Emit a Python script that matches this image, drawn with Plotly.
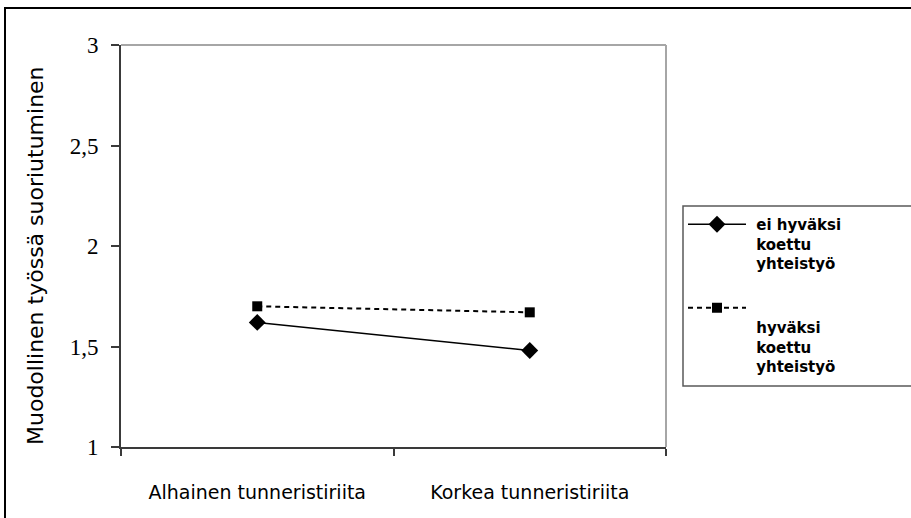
import plotly.graph_objects as go

# Mean formal job performance by tunnel-conflict level
categories = ["Alhainen tunneristiriita", "Korkea tunneristiriita"]
ei_hyvaksi_koettu = [1.62, 1.48]
hyvaksi_koettu = [1.70, 1.67]

NB = "\u00a0"
series_names = [
    "<br>".join(NB + s for s in ["ei hyväksi", "koettu", "yhteistyö"]),
    "<br>" + "<br>".join(NB + s for s in ["hyväksi", "koettu", "yhteistyö"]),
]
y_ticks = [1, 1.5, 2, 2.5, 3]

W, H = 911, 518
ML, MR, MT, MB = 121, 0, 45, 71
PW = W - ML - MR
PH = H - MT - MB
PLOT_RIGHT = 666


def px_x(x):
    return (x - ML) / PW


def px_y(y):
    return (H - MB - y) / PH


AXIS = "#3a3a3a"
BORDER = "#a6a6a6"

fig = go.Figure()

fig.add_trace(go.Scatter(
    x=categories, y=ei_hyvaksi_koettu, name=series_names[0],
    mode="lines+markers", legendgroup="a",
    line=dict(color="black", width=1.5),
    marker=dict(symbol="diamond", size=13, color="black"),
))
fig.add_trace(go.Scatter(
    x=categories, y=hyvaksi_koettu, name=series_names[1],
    mode="lines+markers", legendgroup="b",
    line=dict(color="black", width=2, dash="5px,4px"),
    marker=dict(symbol="square", size=10, color="black"),
))

shapes = [
    # outer chart frame
    dict(type="rect", xref="paper", yref="paper",
         x0=px_x(5), x1=1.2, y0=-0.5, y1=px_y(8),
         line=dict(color="black", width=2)),
    # plot area top and right edges
    dict(type="line", xref="paper", yref="paper",
         x0=0, x1=px_x(PLOT_RIGHT), y0=1, y1=1,
         line=dict(color=BORDER, width=2)),
    dict(type="line", xref="paper", yref="paper",
         x0=px_x(PLOT_RIGHT), x1=px_x(PLOT_RIGHT), y0=0, y1=1,
         line=dict(color=BORDER, width=2)),
    # legend box
    dict(type="rect", xref="paper", yref="paper",
         x0=px_x(683), x1=1.2, y0=px_y(386), y1=px_y(206),
         line=dict(color="#5a5a5a", width=1.5)),
]

fig.update_layout(
    width=W, height=H,
    margin=dict(l=ML, r=MR, t=MT, b=MB, pad=0),
    paper_bgcolor="white", plot_bgcolor="white",
    separators=", ",
    showlegend=True,
    shapes=shapes,
    legend=dict(
        x=px_x(683), y=px_y(208), xanchor="left", yanchor="top",
        bgcolor="rgba(0,0,0,0)", borderwidth=0,
        font=dict(family="DejaVu Sans", size=15, color="black", weight="bold"),
        valign="top", itemwidth=58, tracegroupgap=22,
    ),
    xaxis=dict(
        domain=[0, px_x(PLOT_RIGHT)],
        type="category", range=[-0.5, 1.5],
        tickson="boundaries", ticks="outside", ticklen=7,
        tickcolor=AXIS, tickwidth=1.5,
        showline=True, linecolor=AXIS, linewidth=2,
        showgrid=False, zeroline=False,
        tickfont=dict(family="DejaVu Sans", size=19, color="black"),
        ticklabelstandoff=27,
    ),
    yaxis=dict(
        range=[1, 3], tickvals=y_ticks,
        ticks="outside", ticklen=8, tickcolor=AXIS, tickwidth=1.5,
        showline=True, linecolor=AXIS, linewidth=2,
        showgrid=False, zeroline=False,
        tickfont=dict(family="Liberation Serif", size=23, color="black"),
        ticklabelstandoff=8,
    ),
    annotations=[dict(
        text="Muodollinen työssä suoriutuminen",
        xref="paper", yref="paper", x=px_x(35), y=px_y(256),
        xanchor="center", yanchor="middle", textangle=-90, showarrow=False,
        font=dict(family="DejaVu Sans", size=22, color="black"),
    )],
)

fig.write_html("out.html")
